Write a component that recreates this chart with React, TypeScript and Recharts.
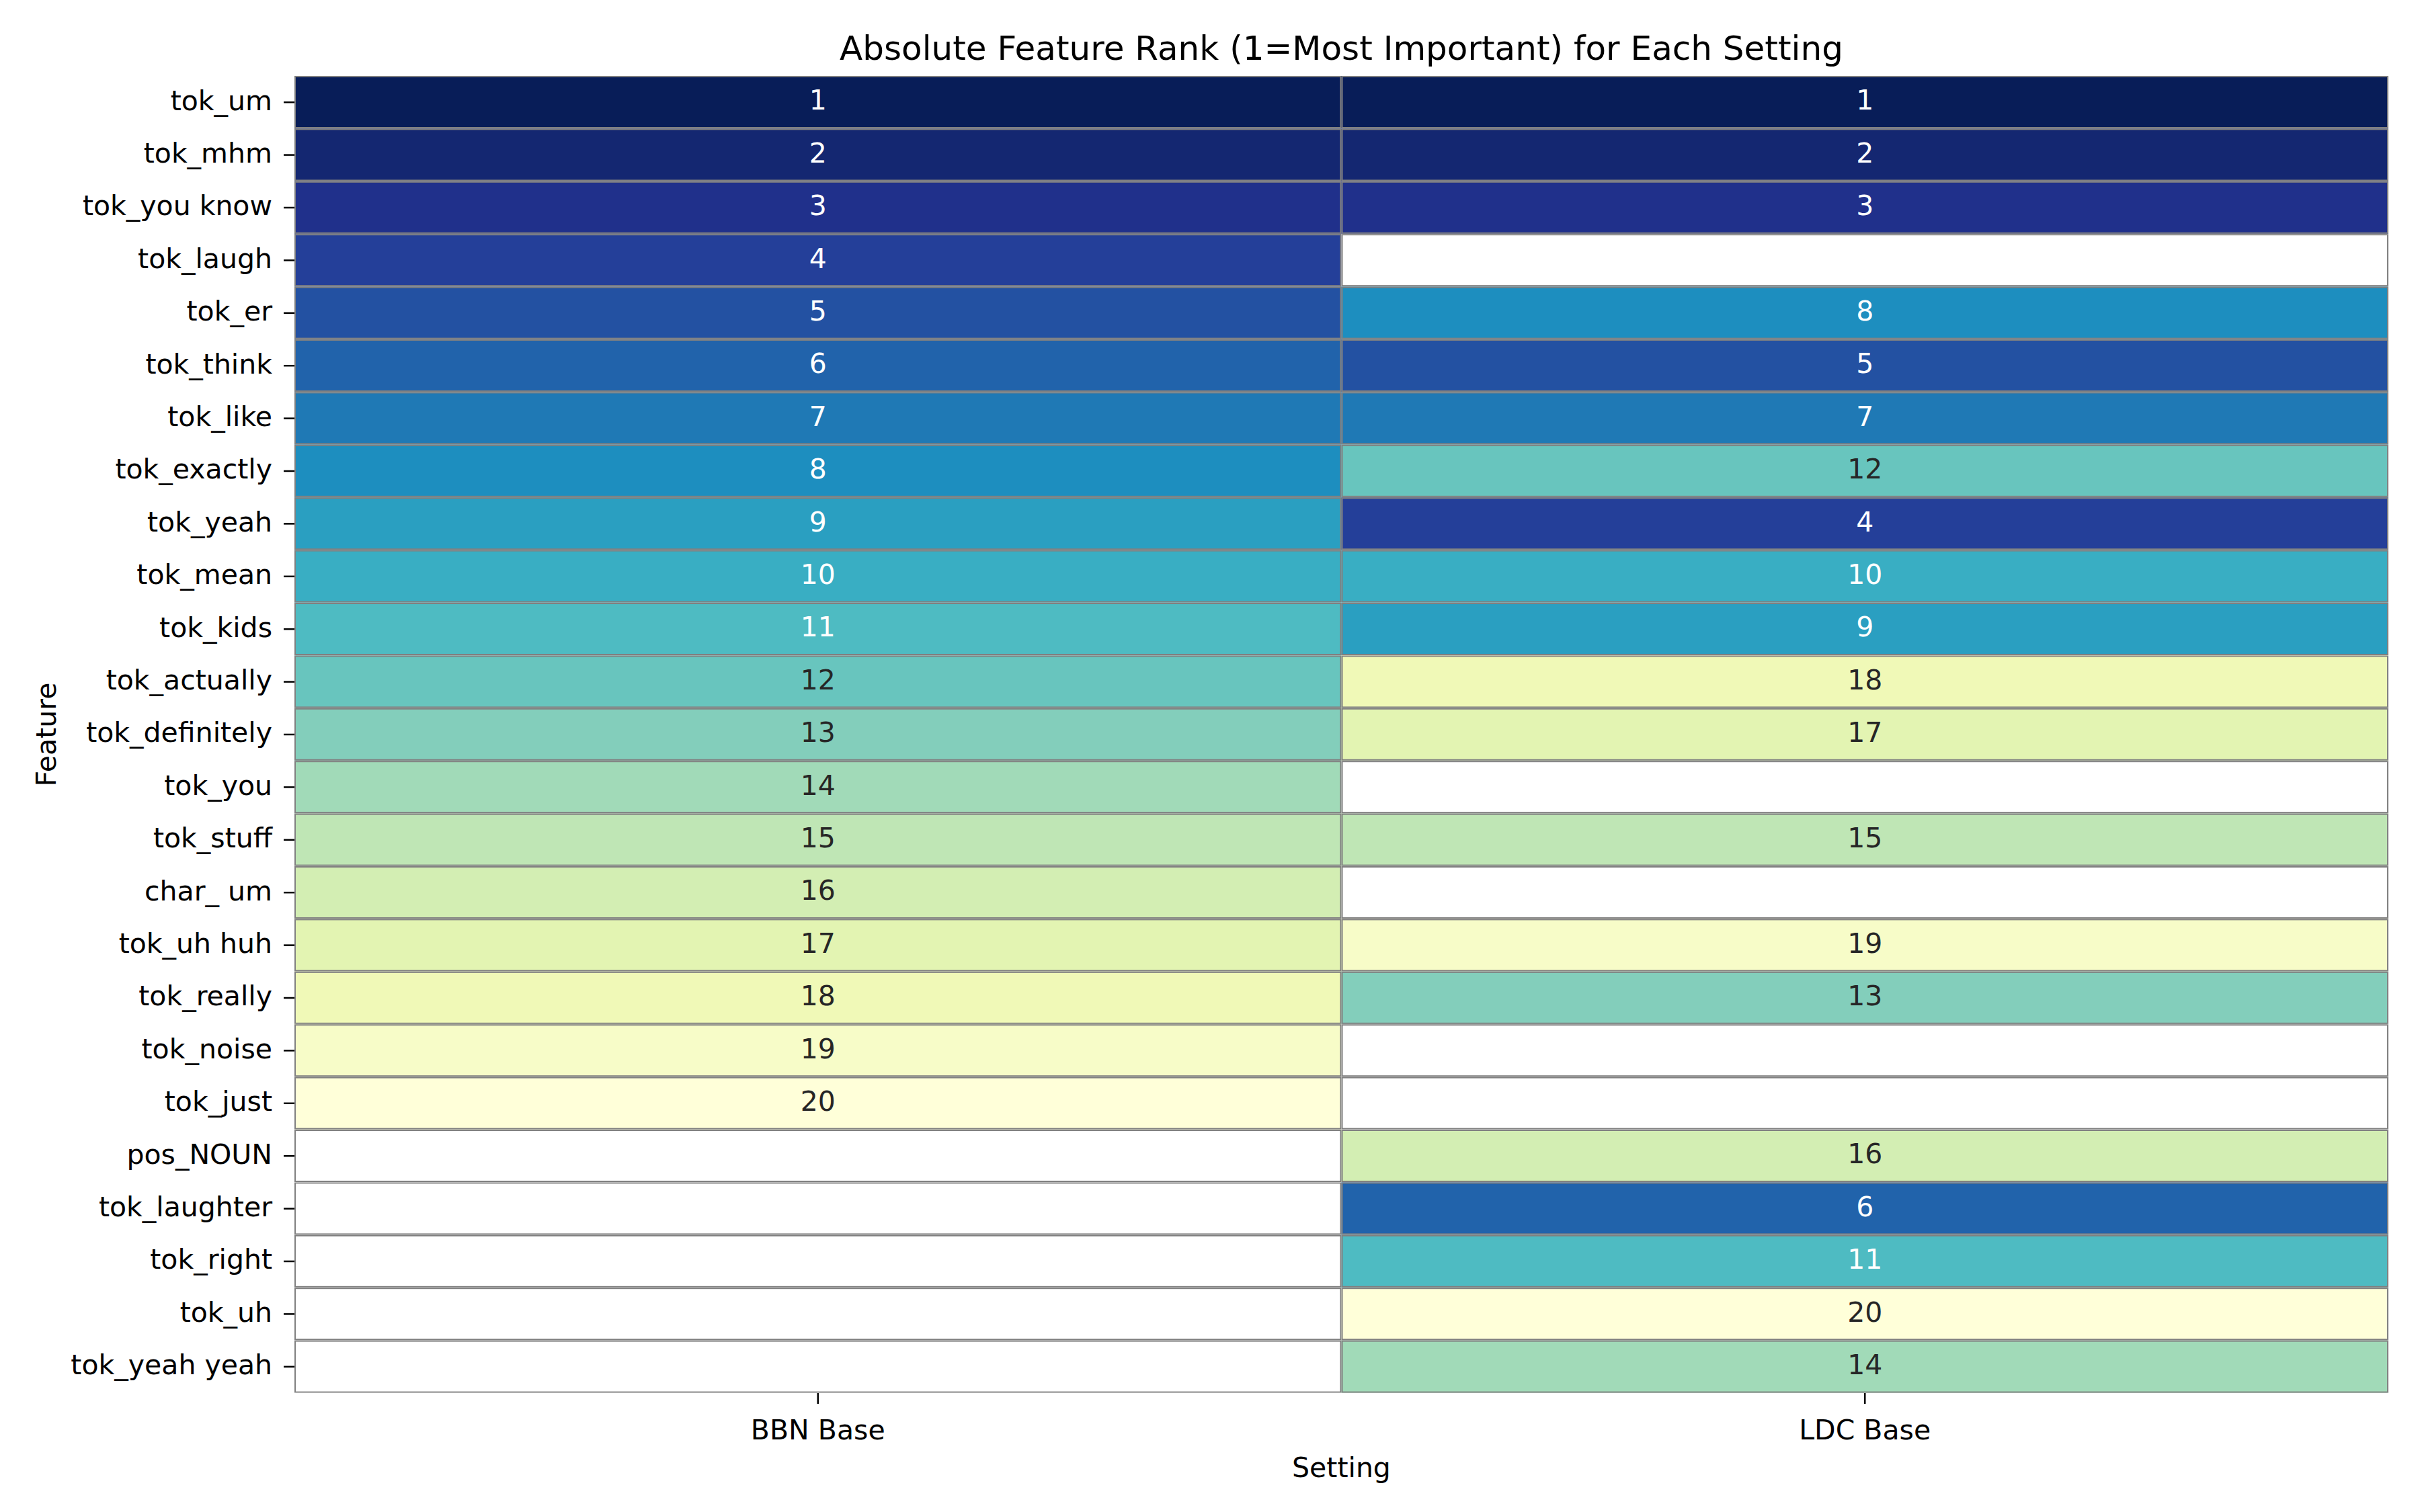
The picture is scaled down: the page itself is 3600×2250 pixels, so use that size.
import React from 'react';
import {Bar, BarChart, XAxis, YAxis} from 'recharts';

const features = [
    'tok_um', 'tok_mhm', 'tok_you know', 'tok_laugh', 'tok_er', 'tok_think', 'tok_like',
    'tok_exactly', 'tok_yeah', 'tok_mean', 'tok_kids', 'tok_actually', 'tok_definitely',
    'tok_you', 'tok_stuff', 'char_ um', 'tok_uh huh', 'tok_really', 'tok_noise', 'tok_just',
    'pos_NOUN', 'tok_laughter', 'tok_right', 'tok_uh', 'tok_yeah yeah'
];

const settings = ['BBN Base', 'LDC Base'];

const bbnRanks: (number | null)[] = [
    1, 2, 3, 4, 5, 6, 7, 8, 9, 10, 11, 12, 13, 14, 15, 16, 17, 18, 19, 20,
    null, null, null, null, null
];

const ldcRanks: (number | null)[] = [
    1, 2, 3, null, 8, 5, 7, 12, 4, 10, 9, 18, 17, null, 15, null, 19, 13, null, null,
    16, 6, 11, 20, 14
];

const RANK_MIN = 1;
const RANK_MAX = 20;

// YlGnBu anchors (light -> dark), rank 1 gets the dark end
const YLGNBU = ['#ffffd9', '#edf8b1', '#c7e9b4', '#7fcdbb', '#41b6c4', '#1d91c0', '#225ea8', '#253494', '#081d58'];

const hex = (c: string) => [1, 3, 5].map(i => parseInt(c.slice(i, i + 2), 16));

const rankColor = (r: number) => {
    const t = (RANK_MAX - r) / (RANK_MAX - RANK_MIN);
    const p = t * (YLGNBU.length - 1);
    const i = Math.min(Math.floor(p), YLGNBU.length - 2);
    const f = p - i;
    const a = hex(YLGNBU[i]);
    const b = hex(YLGNBU[i + 1]);
    const mix = a.map((v, k) => Math.round(v + (b[k] - v) * f));
    return `rgb(${mix[0]}, ${mix[1]}, ${mix[2]})`;
};

const data = features.map((feature, i) => ({
    feature,
    bbn: bbnRanks[i],
    ldc: ldcRanks[i],
    bbnCell: 1,
    ldcCell: 1
}));

const FONT = '"DejaVu Sans", sans-serif';

const makeCell = (rankKey: 'bbn' | 'ldc') => (props: any) => {
    const {x, y, width, height, payload, index} = props;
    const rank = payload[rankKey];
    const id = `clip-${rankKey}-${index}`;
    const fill = rank == null ? '#ffffff' : rankColor(rank);
    return (
        <g>
            <clipPath id={id}>
                <rect x={x} y={y} width={width} height={height}/>
            </clipPath>
            <rect x={x} y={y} width={width} height={height} fill={fill}/>
            <rect x={x} y={y} width={width} height={height} fill="none" stroke="#808080"
                  strokeWidth={4} clipPath={`url(#${id})`}/>
            {rank != null && (
                <text x={x + width / 2} y={y + height / 2} dy="0.28em" textAnchor="middle"
                      fontSize={41} fontFamily={FONT} fill={rank <= 11 ? '#ffffff' : '#262626'}>
                    {rank}
                </text>
            )}
        </g>
    );
};

const App: React.FC = () => {
    return (
        <div style={{position: 'absolute', left: 0, top: 0, width: 3600, height: 2250, background: '#fff'}}>
            <div style={{
                position: 'absolute', left: 438, width: 3115, top: 47, textAlign: 'center',
                fontFamily: FONT, fontSize: 50, lineHeight: '50px', color: '#000'
            }}>
                Absolute Feature Rank (1=Most Important) for Each Setting
            </div>
            <BarChart width={3600} height={2250} data={data} layout="vertical"
                      margin={{top: 113, right: 47, left: 0, bottom: 0}}
                      barCategoryGap={0} barGap={0}>
                <XAxis type="number" domain={[0, 2]} ticks={[0.5, 1.5]} allowDataOverflow
                       tickFormatter={(v: number) => settings[Math.floor(v)]}
                       height={177} axisLine={false} tickSize={16} tickMargin={24}
                       tickLine={{stroke: '#000', strokeWidth: 2.5}}
                       tick={{fontSize: 41, fontFamily: FONT, fill: '#000'}}
                       label={{
                           content: (p: any) => (
                               <text x={p.viewBox.x + p.viewBox.width / 2} y={2198} textAnchor="middle"
                                     fontSize={41} fontFamily={FONT} fill="#000">Setting</text>
                           )
                       }}/>
                <YAxis type="category" dataKey="feature" width={438} axisLine={false}
                       interval={0} tickSize={16} tickMargin={17}
                       tickLine={{stroke: '#000', strokeWidth: 2.5}}
                       tick={{fontSize: 41, fontFamily: FONT, fill: '#000', capHeight: '0.56em'} as any}
                       label={{
                           content: (p: any) => {
                               const cx = 68;
                               const cy = p.viewBox.y + p.viewBox.height / 2;
                               return (
                                   <text x={cx} y={cy} textAnchor="middle" dy="0.36em"
                                         transform={`rotate(-90, ${cx}, ${cy})`}
                                         fontSize={41} fontFamily={FONT} fill="#000">Feature</text>
                               );
                           }
                       }}/>
                <Bar dataKey="bbnCell" stackId="cells" isAnimationActive={false} shape={makeCell('bbn')}/>
                <Bar dataKey="ldcCell" stackId="cells" isAnimationActive={false} shape={makeCell('ldc')}/>
            </BarChart>
        </div>
    );
};

export default App;
